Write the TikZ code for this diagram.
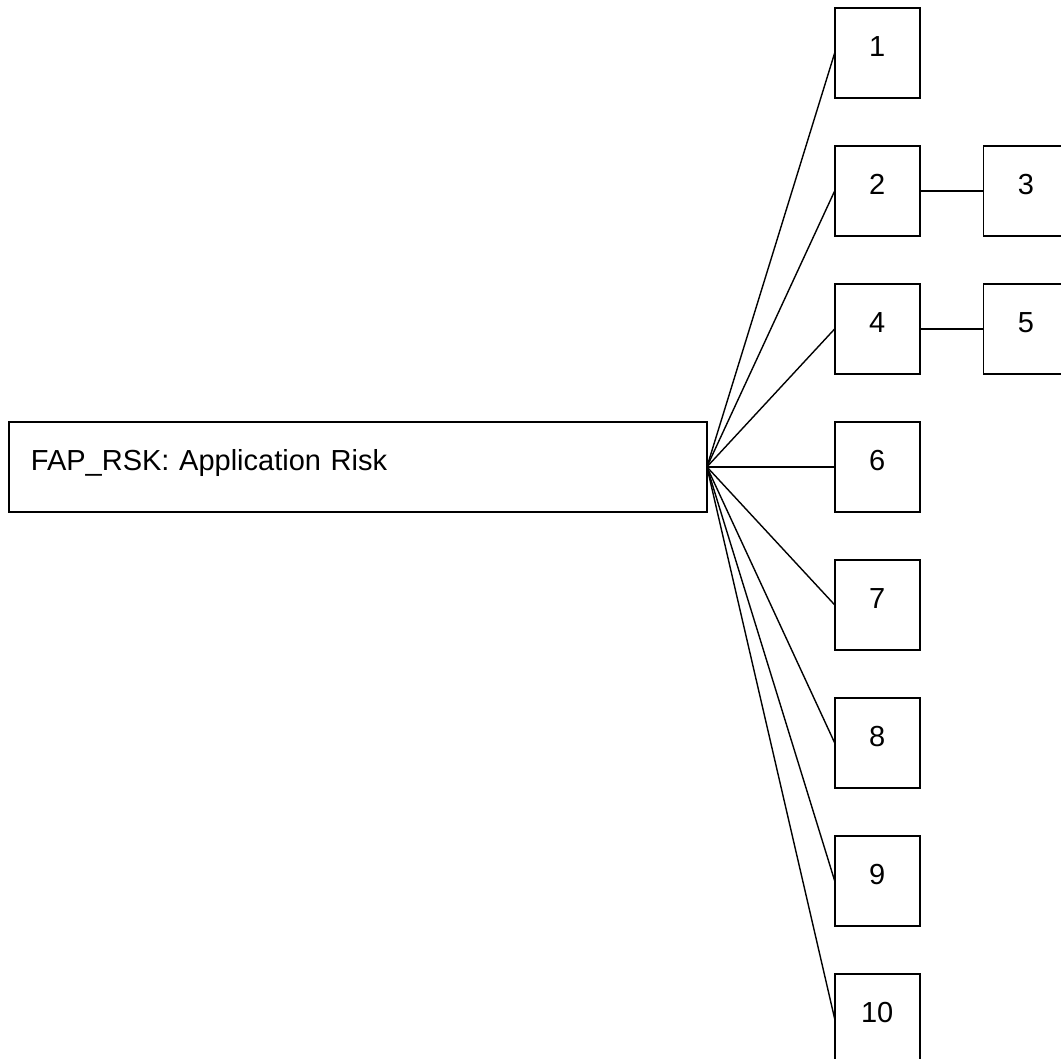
\documentclass[tikz,border=0pt]{standalone}
\usepackage{fontspec}
\setmainfont{Liberation Sans}
\usetikzlibrary{matrix}

\begin{document}
\begin{tikzpicture}[
  box/.style={draw, line width=0.9pt, outer sep=0pt, inner sep=0pt,
    minimum width=42.5pt, minimum height=45pt,
    font=\fontsize{14.5pt}{17pt}\selectfont, text height=10pt, text depth=6pt},
  rootbox/.style={box, minimum width=349pt, text width=327pt, align=left, inner xsep=11pt},
  link/.style={line width=0.7pt}]
\path[use as bounding box, clip] (0,0) rectangle (530.5pt,-529.5pt);
\matrix (m) [anchor=north west, inner sep=0pt, outer sep=0pt, column sep=63pt, row sep=23.1pt] at (4pt,-3.5pt) {
& \node[box](b1){1}; &[-32pt] \\
& \node[box](b2){2}; &[-32pt] \node[box](b3){3}; \\
& \node[box](b4){4}; &[-32pt] \node[box](b5){5}; \\
\node[rootbox](r){FAP\_RSK: Application Risk}; & \node[box](b6){6}; &[-32pt] \\
& \node[box](b7){7}; &[-32pt] \\
& \node[box](b8){8}; &[-32pt] \\
& \node[box](b9){9}; &[-32pt] \\
& \node[box](b10){10}; &[-32pt] \\
};
\draw[link] (r.east) -- (b1.west);
\draw[link] (r.east) -- (b2.west);
\draw[link] (r.east) -- (b4.west);
\draw[link] (r.east) -- (b6.west);
\draw[link] (r.east) -- (b7.west);
\draw[link] (r.east) -- (b8.west);
\draw[link] (r.east) -- (b9.west);
\draw[link] (r.east) -- (b10.west);
\draw[line width=1.3pt] (b2) -- (b3);
\draw[link] (b4) -- (b5);
\end{tikzpicture}
\end{document}
